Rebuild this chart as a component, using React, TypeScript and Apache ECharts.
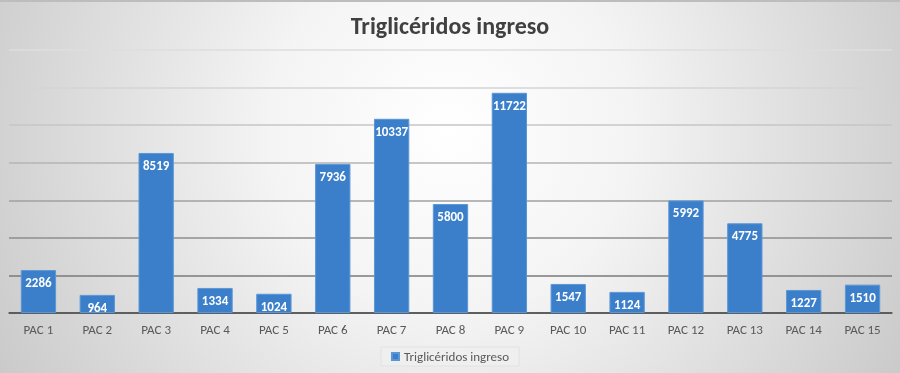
import React, { useEffect, useRef } from "react";
import * as echarts from "echarts";

const categories = ["PAC 1", "PAC 2", "PAC 3", "PAC 4", "PAC 5", "PAC 6", "PAC 7", "PAC 8", "PAC 9", "PAC 10", "PAC 11", "PAC 12", "PAC 13", "PAC 14", "PAC 15"];
const trigliceridos = [2286, 964, 8519, 1334, 1024, 7936, 10337, 5800, 11722, 1547, 1124, 5992, 4775, 1227, 1510];
const seriesName = "Triglicéridos ingreso";
const titleText = "Triglicéridos ingreso";

const FONT = "Carlito, 'Open Sans', 'Noto Sans', sans-serif";

export default function App() {
  const ref = useRef<HTMLDivElement>(null);
  useEffect(() => {
    if (!ref.current) return;
    const chart = echarts.init(ref.current, undefined, { renderer: "svg" });
    chart.setOption({
      animation: false,
      backgroundColor: new echarts.graphic.RadialGradient(450, 130, 520, [
        { offset: 0, color: "#ffffff" },
        { offset: 0.35, color: "#f4f4f4" },
        { offset: 1, color: "#c9c9c9" },
      ], true),
      title: {
        text: titleText,
        left: "center",
        top: 8,
        textStyle: { fontFamily: FONT, fontSize: 24, fontWeight: "bold", color: "#404040" },
      },
      graphic: [
        { type: "rect", shape: { x: 0, y: 0, width: 900, height: 2 }, style: { fill: "#bdbdbd" } },
      ],
      legend: {
        bottom: 7,
        left: "center",
        data: [seriesName],
        icon: "rect",
        itemWidth: 7,
        itemHeight: 7,
        itemGap: 6,
        backgroundColor: "rgba(240,240,240,0.7)",
        borderColor: "#e2e2e2",
        borderWidth: 1,
        padding: [3, 10, 3, 10],
        textStyle: { fontFamily: FONT, fontSize: 13, color: "#595959" },
      },
      grid: { left: 9, right: 8, top: 50, bottom: 60, containLabel: false },
      xAxis: {
        type: "category",
        data: categories,
        axisTick: { show: false },
        axisLine: { show: true, lineStyle: { color: "#555555", width: 1.5 } },
        axisLabel: { fontFamily: FONT, fontSize: 13, color: "#595959", margin: 10 },
      },
      yAxis: {
        type: "value",
        min: 0,
        max: 14000,
        interval: 2000,
        axisLabel: { show: false },
        axisLine: { show: false },
        axisTick: { show: false },
        splitLine: {
          show: true,
          lineStyle: {
            width: 1.5,
            color: ["#5a5a5a", "#7a7a7a", "#8e8e8e", "#a0a0a0", "#b4b4b4", "#c6c6c6", "#d4d4d4", "#dedede"],
          },
        },
      },
      series: [
        {
          name: seriesName,
          type: "bar",
          data: trigliceridos,
          barCategoryGap: "40%",
          itemStyle: { color: "#3b7fca", borderColor: "#5b97d6", borderWidth: 1 },
          label: {
            show: true,
            position: "insideTop",
            distance: 6,
            color: "#ffffff",
            fontFamily: FONT,
            fontWeight: "bold",
            fontSize: 13,
          },
        },
      ],
    });
    return () => chart.dispose();
  }, []);
  return <div ref={ref} style={{ position: "fixed", left: 0, top: 0, width: 900, height: 373 }} />;
}
